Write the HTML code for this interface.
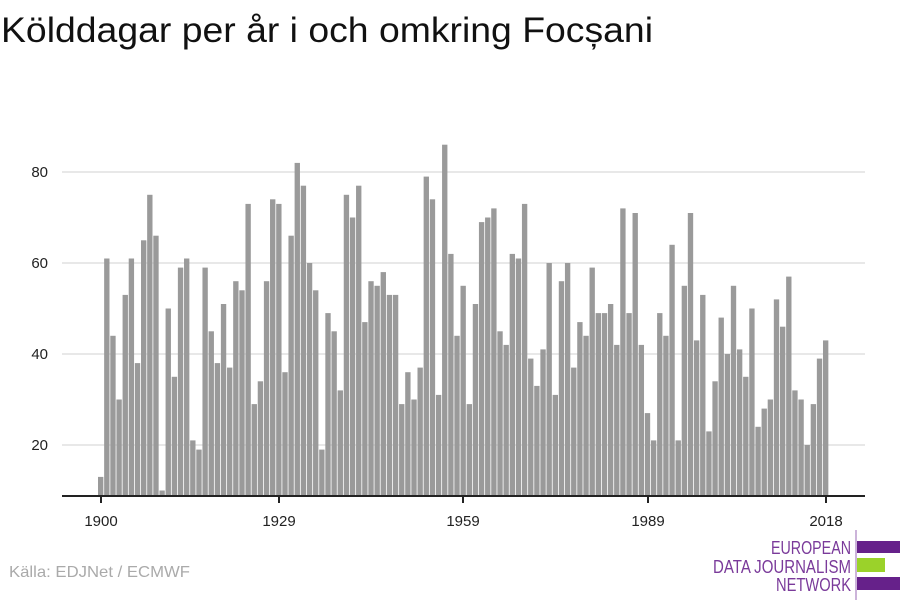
<!DOCTYPE html>
<html><head><meta charset="utf-8"><style>
body{margin:0;background:#fff;}
svg{display:block;font-family:"Liberation Sans","DejaVu Sans",sans-serif;}
</style></head><body>
<svg id="s" width="900" height="600" xmlns="http://www.w3.org/2000/svg">
<rect width="900" height="600" fill="#fff"/>
<text x="1" y="42" font-size="35" fill="#111" textLength="652" lengthAdjust="spacingAndGlyphs">Kölddagar per år i och omkring Focșani</text>
<g stroke="#e0e0e0" stroke-width="1.5">
<line x1="62" x2="865" y1="172" y2="172"/>
<line x1="62" x2="865" y1="263" y2="263"/>
<line x1="62" x2="865" y1="354" y2="354"/>
<line x1="62" x2="865" y1="445" y2="445"/>
</g>
<g font-size="15" fill="#222" text-anchor="end">
<text x="48" y="177">80</text><text x="48" y="268">60</text><text x="48" y="359">40</text><text x="48" y="450">20</text>
</g>
<g id="bars" fill="#9a9a9a"></g>
<line x1="62" x2="865" y1="496" y2="496" stroke="#222" stroke-width="2"/>
<g stroke="#222" stroke-width="2">
<line x1="101" x2="101" y1="496" y2="503"/><line x1="279" x2="279" y1="496" y2="503"/>
<line x1="463" x2="463" y1="496" y2="503"/><line x1="648" x2="648" y1="496" y2="503"/>
<line x1="826" x2="826" y1="496" y2="503"/>
</g>
<g font-size="15" fill="#222" text-anchor="middle">
<text x="101" y="526">1900</text><text x="279" y="526">1929</text><text x="463" y="526">1959</text><text x="648" y="526">1989</text><text x="826" y="526">2018</text>
</g>
<text x="9" y="577" font-size="16" fill="#aaa" textLength="181" lengthAdjust="spacingAndGlyphs">Källa: EDJNet / ECMWF</text>
<g font-family="'Liberation Sans Narrow','Liberation Sans',sans-serif" font-size="18" fill="#7a3a9a" text-anchor="end">
<text x="851" y="554" textLength="80" lengthAdjust="spacingAndGlyphs">EUROPEAN</text>
<text x="851" y="573" textLength="138" lengthAdjust="spacingAndGlyphs">DATA JOURNALISM</text>
<text x="851" y="591" textLength="75" lengthAdjust="spacingAndGlyphs">NETWORK</text>
</g>
<line x1="856" x2="856" y1="530" y2="600" stroke="#9a6ab5" stroke-width="1"/>
<rect x="857" y="541" width="43" height="12" fill="#66218a"/>
<rect x="857" y="558" width="28" height="14" fill="#9bd22a"/>
<rect x="857" y="577" width="43" height="13" fill="#66218a"/>
</svg>
<script>
var v=[13,61,44,30,53,61,38,65,75,66,10,50,35,59,61,21,19,59,45,38,51,37,56,54,73,29,34,56,74,73,36,66,82,77,60,54,19,49,45,32,75,70,77,47,56,55,58,53,53,29,36,30,37,79,74,31,86,62,44,55,29,51,69,70,72,45,42,62,61,73,39,33,41,60,31,56,60,37,47,44,59,49,49,51,42,72,49,71,42,27,21,49,44,64,21,55,71,43,53,23,34,48,40,55,41,35,50,24,28,30,52,46,57,32,30,20,29,39,43];
var g=document.getElementById('bars'),h='';
for(var i=0;i<v.length;i++){var x=98+i*6.144,y=445-(v[i]-20)*4.55;h+='<rect x="'+x.toFixed(2)+'" y="'+y.toFixed(1)+'" width="5.35" height="'+(496-y).toFixed(1)+'"/>';}
g.innerHTML=h;
</script>
</body></html>
